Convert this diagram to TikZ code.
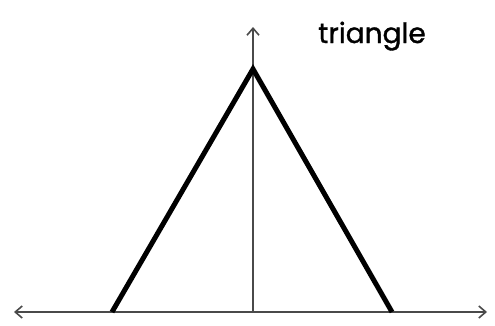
\documentclass[tikz,border=0pt]{standalone}
\usepackage{fontspec}
\usepackage{tikz}
\usetikzlibrary{arrows.meta,positioning}
\newfontfamily\labelfont[FakeBold=1.2]{Poppins}
\definecolor{AxisGray}{HTML}{4A4A4A}

\begin{document}
\begin{tikzpicture}[>={Straight Barb[length=7pt,width=12pt,line width=1.6pt]}, x=1pt, y=1pt]
  \useasboundingbox (0,0) rectangle (495,325);
  % axes
  \coordinate (xl) at (14,13);
  \coordinate (xr) at (487,13);
  \coordinate (o) at (253,13);
  \coordinate (yt) at (253,298);
  \draw[<->, AxisGray, line width=1.6pt] (xl) -- (xr);
  \draw[->, AxisGray, line width=1.6pt] (o) -- (yt);
  % triangle
  \coordinate (a) at (112,13);
  \coordinate (top) at (253,256);
  \coordinate (b) at (392,13);
  \draw[line width=5pt, line join=miter] (a) -- (top) -- (b);
  \node[anchor=base, inner sep=0pt, font=\labelfont\fontsize{28}{28}\selectfont] (title) at (372,282) {triangle};
\end{tikzpicture}
\end{document}
